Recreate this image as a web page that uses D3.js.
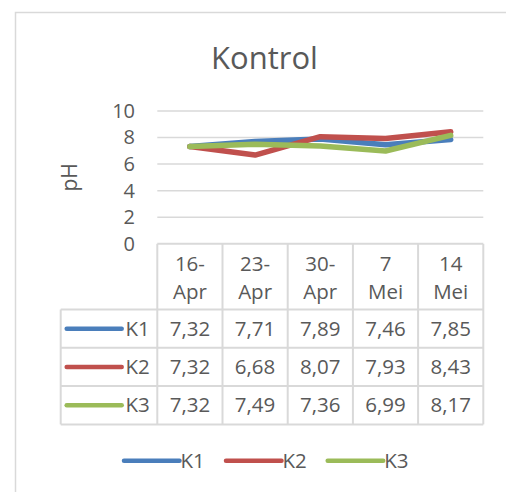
<!DOCTYPE html>
<html>
<head>
<meta charset="utf-8">
<script src="https://cdn.jsdelivr.net/npm/d3@7"></script>
<style>
	body { margin: 0; background: #fff; }
	svg { display: block; }
	text { font-family: "Open Sans", sans-serif; fill: #595959; }
</style>
</head>
<body>
<script>
"use strict";

// data
const categories = ["16-Apr", "23-Apr", "30-Apr", "7 Mei", "14 Mei"];
const seriesNames = ["K1", "K2", "K3"];
const k1 = [7.32, 7.71, 7.89, 7.46, 7.85];
const k2 = [7.32, 6.68, 8.07, 7.93, 8.43];
const k3 = [7.32, 7.49, 7.36, 6.99, 8.17];
const yTicks = [0, 2, 4, 6, 8, 10];

const colors = ["#4a7ebb", "#c0504d", "#9bbb59"];
const w = 506;
const h = 492;
const plot = { left: 157.3, right: 483.3, top: 111, bottom: 243.8 };
const table = { left: 60.7, headerBottom: 309.5, rowH: 38.3 };
const gridColor = "#d9d9d9";
const fontSize = "20.5px";

const data = seriesNames.map((name, i) => ({ name, color: colors[i], values: [k1, k2, k3][i] }));
const idLocale = d3.formatLocale({ decimal: ",", thousands: ".", grouping: [3], currency: ["", ""] });
const fmt = idLocale.format(".2f");

const svg = d3.select("body")
	.append("svg")
	.attr("width", w)
	.attr("height", h);

// chart area border (runs off the right and bottom of the picture)
svg.append("rect")
	.attr("x", 15.5)
	.attr("y", 12.5)
	.attr("width", 520)
	.attr("height", 520)
	.attr("fill", "#fff")
	.attr("stroke", gridColor)
	.attr("stroke-width", 1.5);

svg.append("text")
	.attr("x", 264.5)
	.attr("y", 69)
	.attr("text-anchor", "middle")
	.style("font-size", "31px")
	.text("Kontrol");

const x = d3.scaleBand()
	.domain(categories)
	.range([plot.left, plot.right]);
const y = d3.scaleLinear()
	.domain([0, 10])
	.range([plot.bottom, plot.top]);

// gridlines
svg.append("g")
	.selectAll("line")
	.data(yTicks.filter(t => t > 0))
	.join("line")
	.attr("x1", plot.left)
	.attr("x2", plot.right)
	.attr("y1", d => y(d))
	.attr("y2", d => y(d))
	.attr("stroke", gridColor)
	.attr("stroke-width", 1.5);

const yAxis = d3.axisLeft(y)
	.tickValues(yTicks)
	.tickSize(0)
	.tickPadding(0);
svg.append("g")
	.attr("transform", "translate(135,0)")
	.call(yAxis)
	.call(g => g.select(".domain").remove())
	.call(g => g.selectAll("text")
		.attr("fill", null)
		.style("font-size", "20px")
		.style("font-family", "\"Open Sans\", sans-serif"));

svg.append("text")
	.attr("transform", `translate(77,${(plot.top + plot.bottom) / 2}) rotate(-90)`)
	.attr("text-anchor", "middle")
	.style("font-size", "21px")
	.text("pH");

// lines
const line = d3.line()
	.x((d, i) => x(categories[i]) + x.bandwidth() / 2)
	.y(d => y(d));
svg.append("g")
	.selectAll("path")
	.data(data)
	.join("path")
	.attr("d", d => line(d.values))
	.attr("fill", "none")
	.attr("stroke", d => d.color)
	.attr("stroke-width", 5.5)
	.attr("stroke-linejoin", "round")
	.attr("stroke-linecap", "round");

// data table
const tableBottom = table.headerBottom + table.rowH * data.length;
const tbl = svg.append("g")
	.attr("stroke", gridColor)
	.attr("stroke-width", 2);
// horizontal rules
tbl.append("line")
	.attr("x1", plot.left).attr("x2", plot.right)
	.attr("y1", plot.bottom).attr("y2", plot.bottom);
tbl.selectAll("line.row")
	.data(d3.range(data.length + 1))
	.join("line")
	.attr("class", "row")
	.attr("x1", table.left).attr("x2", plot.right)
	.attr("y1", i => table.headerBottom + i * table.rowH)
	.attr("y2", i => table.headerBottom + i * table.rowH);
// vertical rules
tbl.selectAll("line.col")
	.data(categories.concat([null]))
	.join("line")
	.attr("class", "col")
	.attr("x1", d => d === null ? plot.right : x(d))
	.attr("x2", d => d === null ? plot.right : x(d))
	.attr("y1", plot.bottom)
	.attr("y2", tableBottom);
tbl.append("line")
	.attr("x1", table.left).attr("x2", table.left)
	.attr("y1", table.headerBottom).attr("y2", tableBottom);

// header cells, split like Excel wraps them
svg.append("g")
	.selectAll("text")
	.data(categories)
	.join("text")
	.attr("text-anchor", "middle")
	.style("font-size", fontSize)
	.selectAll("tspan")
	.data(d => d.split(/(?<=-)|\s/).map(s => ({ s, cat: d })))
	.join("tspan")
	.attr("x", d => x(d.cat) + x.bandwidth() / 2)
	.attr("y", (d, i) => 270.5 + i * 28.5)
	.text(d => d.s);

// value rows
const rows = svg.append("g")
	.selectAll("g")
	.data(data)
	.join("g")
	.attr("transform", (d, i) => `translate(0,${table.headerBottom + (i + 0.5) * table.rowH})`);
rows.append("line")
	.attr("x1", 66.7)
	.attr("x2", 121.7)
	.attr("stroke", d => d.color)
	.attr("stroke-width", 4.5)
	.attr("stroke-linecap", "round");
rows.append("text")
	.attr("x", 125.5)
	.attr("dy", "0.35em")
	.style("font-size", fontSize)
	.text(d => d.name);
rows.selectAll("text.val")
	.data(d => d.values)
	.join("text")
	.attr("class", "val")
	.attr("x", (d, i) => x(categories[i]) + x.bandwidth() / 2)
	.attr("dy", "0.35em")
	.attr("text-anchor", "middle")
	.style("font-size", fontSize)
	.text(d => fmt(d));

// legend
const legendX = [124, 226, 327.7];
const legend = svg.append("g")
	.attr("transform", "translate(0,460.7)")
	.selectAll("g")
	.data(data)
	.join("g")
	.attr("transform", (d, i) => `translate(${legendX[i]},0)`);
legend.append("line")
	.attr("x1", 0)
	.attr("x2", 55.5)
	.attr("stroke", d => d.color)
	.attr("stroke-width", 4.5)
	.attr("stroke-linecap", "round");
legend.append("text")
	.attr("x", 56.5)
	.attr("dy", "0.35em")
	.style("font-size", fontSize)
	.text(d => d.name);
</script>
</body>
</html>
